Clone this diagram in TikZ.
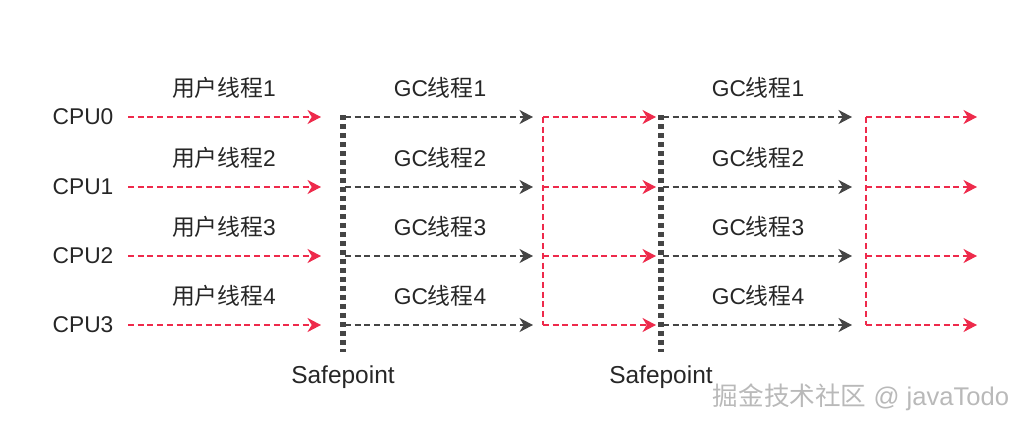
\documentclass[tikz,border=0pt]{standalone}
\usepackage{fontspec}
\setmainfont{Liberation Sans}
\newfontfamily\cjk{Noto Sans CJK SC}
\usetikzlibrary{arrows.meta}
\definecolor{cpured}{HTML}{EE2A4B}
\definecolor{gcgray}{HTML}{454545}
\definecolor{txtgray}{HTML}{262626}
\tikzset{
  thread/.style={line width=1pt,dash pattern=on 4.3pt off 2.6pt,
    -{Stealth[length=9.6pt,width=10pt,inset=3pt]}},
  userarrow/.style={thread,cpured},
  gcarrow/.style={thread,gcgray},
  bracket/.style={line width=1pt,dash pattern=on 4.3pt off 2.6pt,cpured},
  safeline/.style={line width=3.6pt,dash pattern=on 3.6pt off 2.8pt,gcgray},
  lbl/.style={text=txtgray,font=\fontsize{16.2}{19}\selectfont,inner sep=1pt},
  safelbl/.style={lbl,font=\fontsize{17.4}{20}\selectfont},
}
\begin{document}
\begin{tikzpicture}[x=0.025cm,y=-0.025cm]
\useasboundingbox (0,0) rectangle (1027,428);
% safepoints
\coordinate (sp1t) at (343,115);
\coordinate (sp1b) at (343,352);
\coordinate (sp2t) at (661,115);
\coordinate (sp2b) at (661,352);
\draw[safeline] (sp1t)--(sp1b);
\draw[safeline] (sp2t)--(sp2b);
\node[safelbl] (sp1) at (343,377) {Safepoint};
\node[safelbl] (sp2) at (661,377) {Safepoint};
% red brackets after each GC
\coordinate (b1t) at (543,117);
\coordinate (b1b) at (543,325);
\coordinate (b2t) at (866,117);
\coordinate (b2b) at (866,325);
\draw[bracket] (b1t)--(b1b);
\draw[bracket] (b2t)--(b2b);
\foreach \y [count=\i from 0, evaluate=\i as \n using int(\i+1)] in {117,187,256,325}{
  \node[lbl] (cpu\i) at (83,\y) {CPU\i};
  \coordinate (a\i) at (128,\y);
  \coordinate (e\i) at (321,\y);
  \draw[userarrow] (a\i)--(e\i);
  \node[lbl] (u\i) at (224,\y-29) {{\cjk 用户线程}\n};
  % first GC
  \coordinate (g\i) at (345,\y);
  \coordinate (ge\i) at (533,\y);
  \draw[gcarrow] (g\i)--(ge\i);
  \node[lbl] (gc\i) at (440,\y-29) {GC{\cjk 线程}\n};
  \coordinate (r\i) at (543,\y);
  \coordinate (re\i) at (656,\y);
  \draw[userarrow] (r\i)--(re\i);
  % second GC
  \coordinate (h\i) at (663,\y);
  \coordinate (he\i) at (852,\y);
  \draw[gcarrow] (h\i)--(he\i);
  \node[lbl] (hc\i) at (758,\y-29) {GC{\cjk 线程}\n};
  \coordinate (s\i) at (866,\y);
  \coordinate (se\i) at (977,\y);
  \draw[userarrow] (s\i)--(se\i);
}
\node[text=gray!55,font=\fontsize{18.2}{21}\selectfont,inner sep=0pt] (mark) at (861,397) {{\cjk 掘金技术社区} @ javaTodo};
\end{tikzpicture}
\end{document}
